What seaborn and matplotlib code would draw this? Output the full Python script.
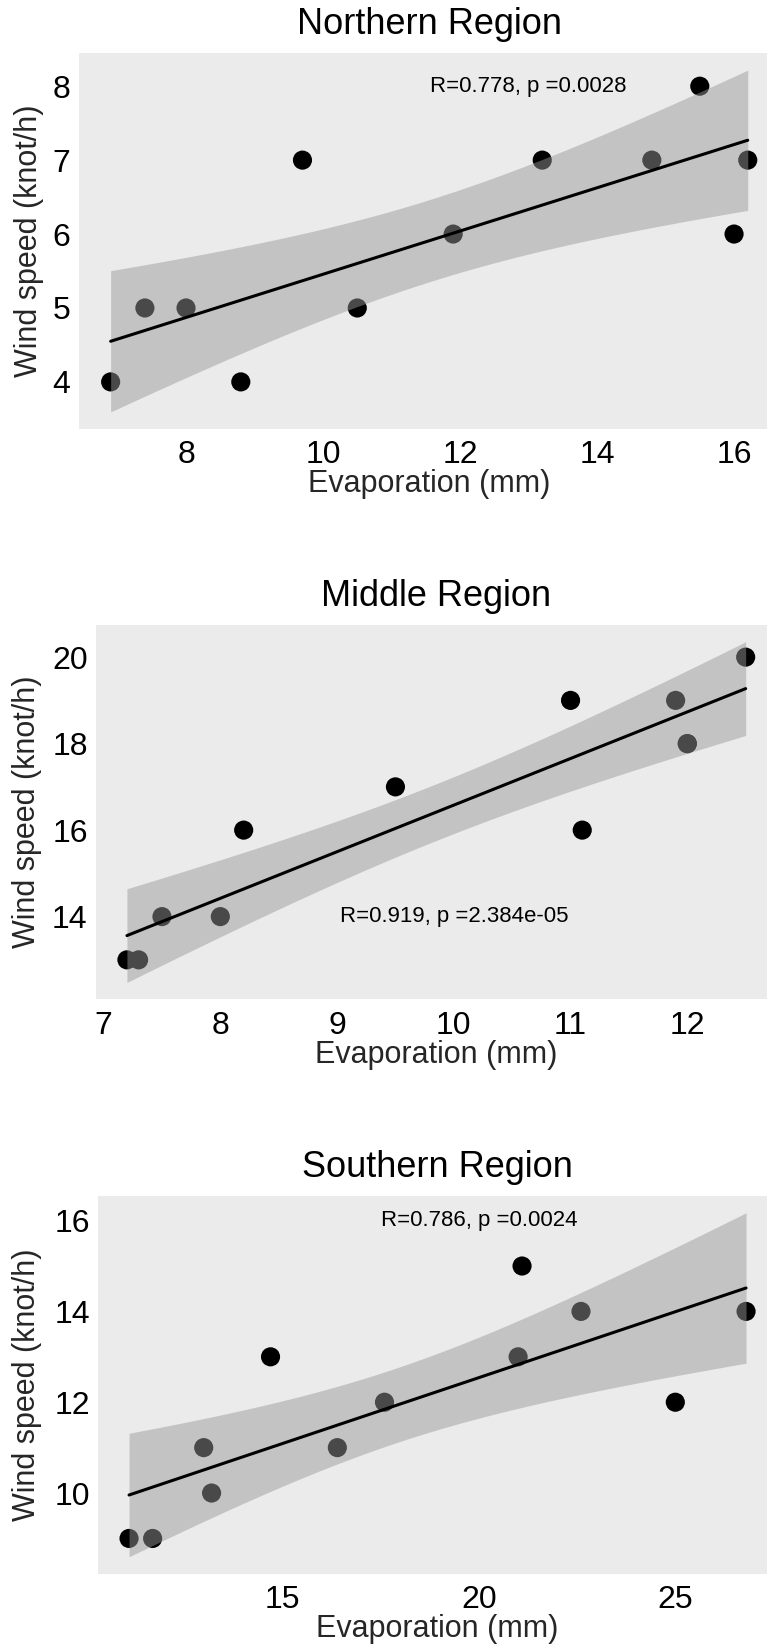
import math
import numpy as np
import pandas as pd
import matplotlib
matplotlib.use("Agg")
import matplotlib.pyplot as plt
import seaborn as sns

# ---------------- data ----------------
north_evap = [6.9, 7.4, 8.0, 8.8, 9.7, 10.5, 11.9, 13.2, 14.8, 15.5, 16.0, 16.2]
north_wind = [4, 5, 5, 4, 7, 5, 6, 7, 7, 8, 6, 7]

middle_evap = [7.2, 7.3, 7.5, 8.0, 8.2, 9.5, 11.0, 11.1, 11.9, 12.0, 12.0, 12.5]
middle_wind = [13, 13, 14, 14, 16, 17, 19, 16, 19, 18, 18, 20]

south_evap = [11.1, 11.7, 13.0, 13.2, 14.7, 16.4, 17.6, 21.0, 21.1, 22.6, 25.0, 26.8]
south_wind = [9, 9, 11, 10, 13, 11, 12, 13, 15, 14, 12, 14]

titles = ["Northern Region", "Middle Region", "Southern Region"]
annot_text = ["R=0.778, p =0.0028", "R=0.919, p =2.384e-05", "R=0.786, p =0.0024"]
annot_x = [13.0, 10.0, 20.0]
annot_y = [8, 14, 16]
x_ticks = [[8, 10, 12, 14, 16], [7, 8, 9, 10, 11, 12], [15, 20, 25]]
y_ticks = [[4, 5, 6, 7, 8], [14, 16, 18, 20], [10, 12, 14, 16]]
x_label = "Evaporation (mm)"
y_label = "Wind speed (knot/h)"

# ---------------- helpers ----------------
def t_quantile(p, df):
    c = math.gamma((df + 1) / 2) / (math.sqrt(df * math.pi) * math.gamma(df / 2))
    def cdf(x):
        g = np.linspace(0, x, 4001)
        pdf = c * (1 + g ** 2 / df) ** (-(df + 1) / 2)
        return 0.5 + np.trapezoid(pdf, g)
    lo, hi = 0.0, 20.0
    for _ in range(80):
        mid = (lo + hi) / 2
        if cdf(mid) < p:
            lo = mid
        else:
            hi = mid
    return (lo + hi) / 2


def lm_band(x, y, n=200):
    x = np.asarray(x, float)
    y = np.asarray(y, float)
    nobs = len(x)
    b1, b0 = np.polyfit(x, y, 1)
    resid = y - (b0 + b1 * x)
    s = np.sqrt(np.sum(resid ** 2) / (nobs - 2))
    xs = np.linspace(x.min(), x.max(), n)
    fit = b0 + b1 * xs
    se = s * np.sqrt(1 / nobs + (xs - x.mean()) ** 2 / np.sum((x - x.mean()) ** 2))
    t = t_quantile(0.975, nobs - 2)
    return xs, fit, fit - t * se, fit + t * se


# ---------------- style ----------------
sns.set_theme(style="white", rc={
    "axes.facecolor": "#EBEBEB",
    "axes.grid": False,
    "figure.facecolor": "white",
})
plt.rcParams["font.family"] = ["Liberation Sans", "DejaVu Sans"]

W, H = 767, 1651
fig = plt.figure(figsize=(W / 100, H / 100), dpi=100)

# panel pixel boxes: left, right, top, bottom
boxes = [(78.8, 779.6, 53, 429), (96.0, 776.6, 624.7, 999.5), (98.2, 776.9, 1195.6, 1574)]
ylabel_x_px = [29, 27, 27]

datasets = [(north_evap, north_wind), (middle_evap, middle_wind), (south_evap, south_wind)]

for i, ((ex, wy), (l, r, t, b)) in enumerate(zip(datasets, boxes)):
    ax = fig.add_axes([l / W, 1 - b / H, (r - l) / W, (b - t) / H])
    df = pd.DataFrame({"evap": ex, "wind": wy})
    sns.scatterplot(data=df, x="evap", y="wind", ax=ax, color="black", s=190,
                    edgecolor="none", linewidth=0, zorder=2)
    xs, fit, lo, hi = lm_band(ex, wy)
    ax.fill_between(xs, lo, hi, color="#999999", alpha=0.48, linewidth=0, zorder=3)
    sns.lineplot(x=xs, y=fit, ax=ax, color="black", linewidth=2.2, zorder=4)

    xmin, xmax = min(ex), max(ex)
    xr = xmax - xmin
    ax.set_xlim(xmin - 0.05 * xr, xmax + 0.05 * xr)
    ymin = min(lo.min(), min(wy))
    ymax = max(hi.max(), max(wy))
    yr = ymax - ymin
    ax.set_ylim(ymin - 0.05 * yr, ymax + 0.05 * yr)

    ax.set_xticks(x_ticks[i])
    ax.set_yticks(y_ticks[i])
    ax.tick_params(axis="both", which="major", length=4, width=1.0, color="#333333",
                   labelsize=23, labelcolor="black", direction="out")
    ax.tick_params(axis="x", pad=4)
    ax.tick_params(axis="y", pad=2)
    for sp in ax.spines.values():
        sp.set_visible(False)

    ax.text(annot_x[i], annot_y[i], annot_text[i], ha="center", va="center",
            fontsize=16, color="black", zorder=5)

    ph = b - t
    pw = r - l
    ax.set_xlabel(x_label, fontsize=22, va="center")
    ax.xaxis.set_label_coords(0.5, -55 / ph)
    ax.set_ylabel(y_label, fontsize=22, va="center")
    ax.yaxis.set_label_coords((ylabel_x_px[i] - l) / pw, 0.5)

    fig.text((l + r) / 2 / W, 1 - (t - 28) / H, titles[i], ha="center", va="center",
             fontsize=26, color="black")

fig.savefig("out.png", dpi=100)
